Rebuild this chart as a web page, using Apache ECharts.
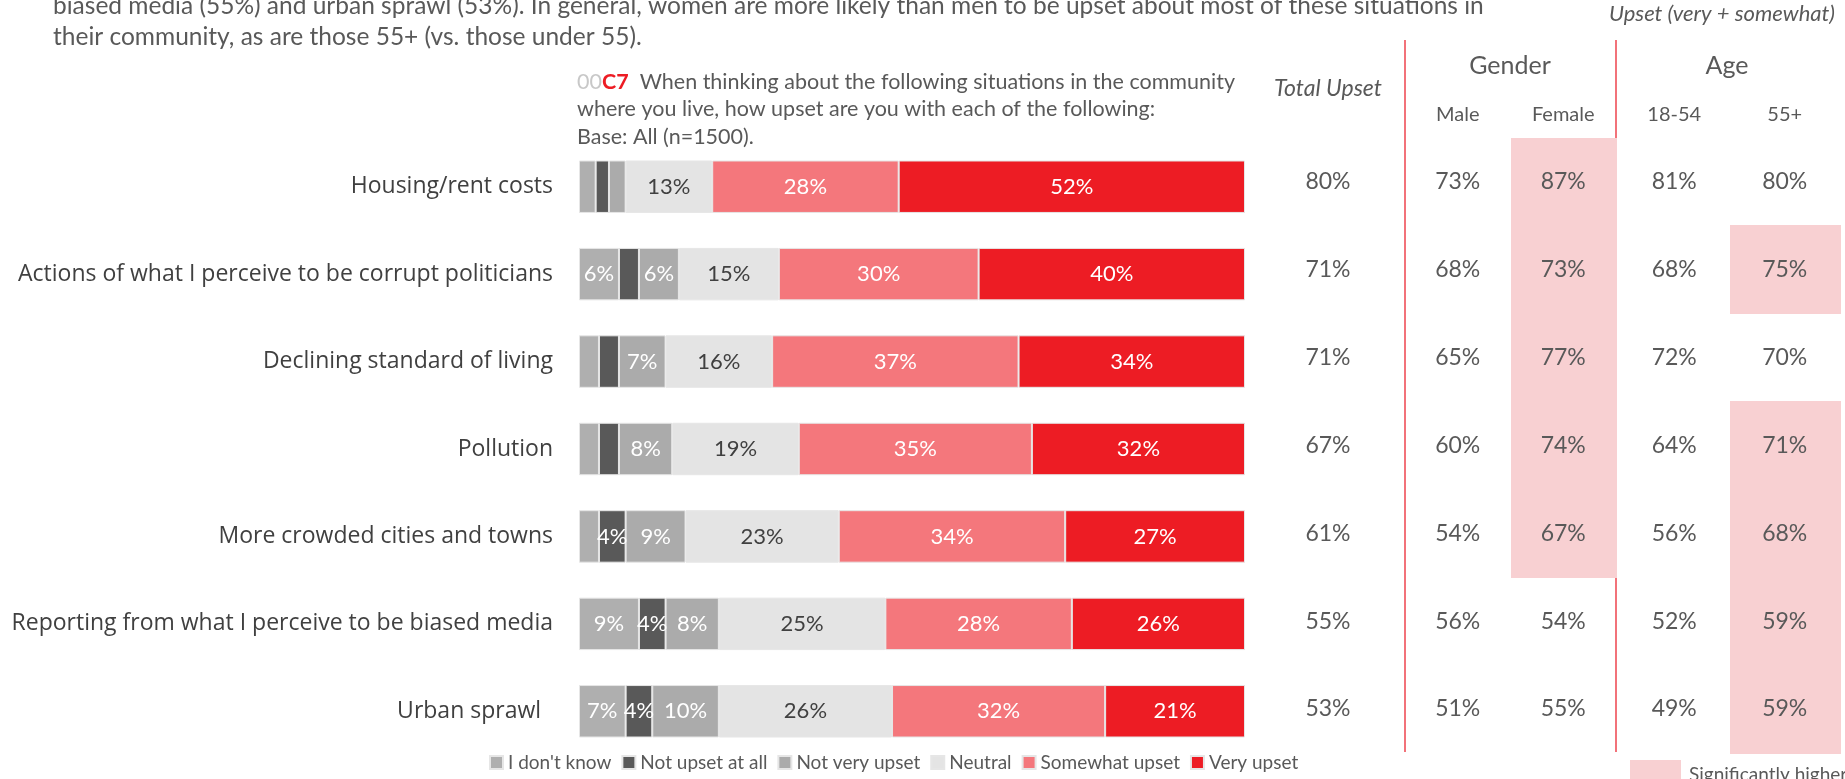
<!DOCTYPE html>
<html>
<head>
<meta charset="utf-8">
<title>Upset about situations in the community</title>
<script src="https://cdn.jsdelivr.net/npm/echarts@6/dist/echarts.min.js"></script>
<style>
  html, body { margin: 0; padding: 0; background: #ffffff; }
  #chart { width: 1845px; height: 779px; }
</style>
</head>
<body>
<div id="chart"></div>
<script>
// ---- Data ----------------------------------------------------------------
const categories = [
  'Housing/rent costs',
  'Actions of what I perceive to be corrupt politicians',
  'Declining standard of living',
  'Pollution',
  'More crowded cities and towns',
  'Reporting from what I perceive to be biased media',
  'Urban sprawl  '
];
const responseNames = ["I don't know", 'Not upset at all', 'Not very upset', 'Neutral', 'Somewhat upset', 'Very upset'];

const dontKnow      = [2.5, 6, 3, 3, 3, 9, 7];
const notUpsetAtAll = [2,   3, 3, 3, 4, 4, 4];
const notVeryUpset  = [2.5, 6, 7, 8, 9, 8, 10];
const neutral       = [13, 15, 16, 19, 23, 25, 26];
const somewhatUpset = [28, 30, 37, 35, 34, 28, 32];
const veryUpset     = [52, 40, 34, 32, 27, 26, 21];

// Upset (very + somewhat) by group
const totalUpset = [80, 71, 71, 67, 61, 55, 53];
const male       = [73, 68, 65, 60, 54, 56, 51];
const female     = [87, 73, 77, 74, 67, 54, 55];
const age18to54  = [81, 68, 72, 64, 56, 52, 49];
const age55plus  = [80, 75, 70, 71, 68, 59, 59];

// 1 = significantly higher than the other group
const femaleHigher = [1, 1, 1, 1, 1, 0, 0];
const age55Higher  = [0, 1, 0, 1, 1, 1, 1];

// ---- Styling -------------------------------------------------------------
const TEXT = '#595959';
const SIG_FILL = '#F8D0D2';
const SEP_RED = '#EF4F58';
const FONT = 'Lato, "Open Sans", sans-serif';
const VALUE_SIZE = 23;
const responseColors = ['#AFAFAF', '#595959', '#ABABAB', '#E4E4E4', '#F4777C', '#ED1C24'];
const responseData = [dontKnow, notUpsetAtAll, notVeryUpset, neutral, somewhatUpset, veryUpset];

const chart = echarts.init(document.getElementById('chart'), null, { renderer: 'canvas' });

// Bar series, one per response level, stacked to 100%
const barSeries = responseNames.map((name, i) => ({
  name,
  type: 'bar',
  stack: 'all',
  xAxisIndex: 0,
  yAxisIndex: 0,
  barWidth: '60%',
  data: responseData[i],
  itemStyle: { color: responseColors[i], borderColor: '#E6E6E6', borderWidth: 1 },
  label: {
    show: true,
    position: 'inside',
    color: i === 3 ? '#404040' : '#FFFFFF',
    fontFamily: FONT,
    fontSize: 22,
    formatter: p => (p.value >= 4 ? p.value + '%' : '')
  },
  emphasis: { disabled: true }
}));

// Table cells: value text, pink block when significantly higher
function cellRenderer(params, api) {
  const c = api.coord([api.value(0), api.value(1)]);
  const s = api.size([1, 1]);
  const children = [];
  if (api.value(3)) {
    // slight overlap so adjacent highlighted cells join without seams
    children.push({
      type: 'rect',
      shape: { x: Math.round(c[0] - s[0] / 2), y: Math.floor(c[1] - s[1] / 2), width: Math.round(s[0]), height: Math.ceil(s[1]) + 1 },
      style: { fill: SIG_FILL }
    });
  }
  children.push({
    type: 'text',
    style: {
      text: api.value(2) + '%', x: c[0], y: c[1],
      align: 'center', verticalAlign: 'middle',
      fill: TEXT, fontFamily: FONT, fontSize: VALUE_SIZE
    }
  });
  return { type: 'group', children };
}

function cells(colName, values, flags) {
  return values.map((v, r) => [colName, categories[r], v, flags ? flags[r] : 0]);
}

function tableSeries(axisIdx, data) {
  return {
    type: 'custom',
    xAxisIndex: axisIdx,
    yAxisIndex: axisIdx,
    renderItem: cellRenderer,
    data,
    silent: true,
    encode: { x: 0, y: 1 }
  };
}

const hiddenCatY = idx => ({
  type: 'category', gridIndex: idx, data: categories, inverse: true,
  axisLine: { show: false }, axisTick: { show: false }, axisLabel: { show: false }, splitLine: { show: false }
});

const topCatX = (idx, data, margin, extra) => ({
  type: 'category', gridIndex: idx, data, position: 'top',
  axisLine: { show: false }, axisTick: { show: false }, splitLine: { show: false },
  axisLabel: Object.assign({ color: TEXT, fontFamily: FONT, fontSize: 20, margin, interval: 0 }, extra || {})
});

const option = {
  animation: false,
  backgroundColor: '#FFFFFF',
  textStyle: { fontFamily: FONT },
  grid: [
    { left: 579, width: 666, top: 143, height: 612, containLabel: false },   // stacked bars
    { left: 1268, width: 120, top: 138, height: 615 },                      // total
    { left: 1405, width: 211, top: 138, height: 615 },                      // gender
    { left: 1619, width: 221, top: 138, height: 615 }                       // age
  ],
  xAxis: [
    { type: 'value', gridIndex: 0, min: 0, max: 100, show: false },
    topCatX(1, ['Total Upset'], 38, { fontStyle: 'italic', fontSize: 23 }),
    topCatX(2, ['Male', 'Female'], 13),
    topCatX(3, ['18-54', '55+'], 13)
  ],
  yAxis: [
    {
      type: 'category', gridIndex: 0, data: categories, inverse: true,
      axisLine: { show: false }, axisTick: { show: false }, splitLine: { show: false },
      axisLabel: { color: '#404040', fontFamily: '"Open Sans", sans-serif', fontSize: 23, margin: 26 }
    },
    hiddenCatY(1), hiddenCatY(2), hiddenCatY(3)
  ],
  legend: {
    data: responseNames,
    left: 484,
    top: 748,
    icon: 'rect',
    itemWidth: 13,
    itemHeight: 13,
    itemGap: 10,
    textStyle: { color: TEXT, fontFamily: FONT, fontSize: 19 },
    selectedMode: false
  },
  series: barSeries.concat([
    tableSeries(1, cells('Total Upset', totalUpset)),
    tableSeries(2, cells('Male', male).concat(cells('Female', female, femaleHigher))),
    tableSeries(3, cells('18-54', age18to54).concat(cells('55+', age55plus, age55Higher)))
  ]),
  graphic: [
    // commentary above the chart
    {
      type: 'text', left: 53, top: -9,
      style: {
        text: 'biased media (55%) and urban sprawl (53%). In general, women are more likely than men to be upset about most of these situations in\ntheir community, as are those 55+ (vs. those under 55).',
        fill: TEXT, fontFamily: FONT, fontSize: 24.5, lineHeight: 31
      }
    },
    // question wording
    {
      type: 'text', left: 577, top: 68,
      style: {
        text: '{q|00}{c|C7}  When thinking about the following situations in the community\nwhere you live, how upset are you with each of the following:\nBase: All (n=1500).',
        fill: TEXT, fontFamily: FONT, fontSize: 21.5, lineHeight: 27.5,
        rich: {
          q: { fill: '#C8C8C8', fontFamily: FONT, fontSize: 21.5, lineHeight: 27.5 },
          c: { fill: '#ED1C24', fontFamily: FONT, fontSize: 21.5, fontWeight: 'bold', lineHeight: 27.5 }
        }
      }
    },
    {
      type: 'text', right: 10, top: 3,
      style: { text: 'Upset (very + somewhat)', fill: TEXT, fontFamily: FONT, fontSize: 22, fontStyle: 'italic' }
    },
    // group headers
    { type: 'text', x: 1510, y: 66, style: { text: 'Gender', fill: TEXT, fontFamily: FONT, fontSize: 25, align: 'center', verticalAlign: 'middle' } },
    { type: 'text', x: 1727, y: 66, style: { text: 'Age', fill: TEXT, fontFamily: FONT, fontSize: 25, align: 'center', verticalAlign: 'middle' } },
    // group separators
    { type: 'line', shape: { x1: 1405, y1: 40, x2: 1405, y2: 752 }, style: { stroke: SEP_RED, lineWidth: 1.6 } },
    { type: 'line', shape: { x1: 1616, y1: 40, x2: 1616, y2: 752 }, style: { stroke: SEP_RED, lineWidth: 1.6 } },
    // significance key
    { type: 'rect', shape: { x: 1630, y: 760, width: 51, height: 30 }, style: { fill: SIG_FILL } },
    { type: 'text', left: 1689, top: 765, style: { text: 'Significantly higher', fill: TEXT, fontFamily: FONT, fontSize: 19 } }
  ]
};

chart.setOption(option);
</script>
</body>
</html>
